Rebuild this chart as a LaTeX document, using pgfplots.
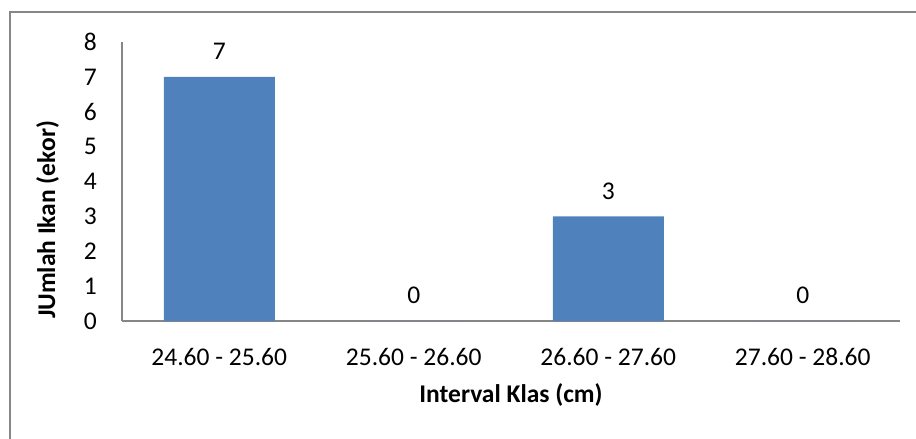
\documentclass[border=0pt]{standalone}
\usepackage{pgfplots}
\pgfplotsset{compat=1.18}
\usepackage{fontspec}
\setmainfont{Carlito}
\definecolor{barblue}{HTML}{4F81BD}
\definecolor{axgray}{HTML}{868686}
\newcommand{\cfont}{\fontsize{25.5bp}{30bp}\selectfont}
\begin{document}
\begin{tikzpicture}
\useasboundingbox (0,0) rectangle (916bp,439bp);
\draw[axgray, line width=1.5bp] (10bp,427bp) rectangle (940bp,-20bp);
\begin{axis}[
  at={(122bp,118bp)}, anchor=south west,
  scale only axis, width=778bp, height=279bp,
  xmin=-0.5, xmax=3.5, ymin=0, ymax=8,
  xtick={0,1,2,3},
  xticklabels={24.60 - 25.60, 25.60 - 26.60, 26.60 - 27.60, 27.60 - 28.60},
  ytick={0,1,2,3,4,5,6,7,8},
  axis x line=bottom, axis y line=left,
  axis line style={-, axgray, line width=1.5bp},
  major tick length=0pt,
  /pgf/number format/assume math mode=true,
  xticklabel style={font=\cfont, anchor=north, inner sep=0pt, yshift=-27bp},
  yticklabel style={font=\cfont, anchor=east, inner sep=0pt, xshift=-25bp},
  xlabel={Interval Klas (cm)},
  ylabel={JUmlah Ikan (ekor)},
  xlabel style={font=\cfont\bfseries, at={(axis description cs:0.5,0)}, anchor=center, yshift=-74bp},
  ylabel style={font=\cfont\bfseries, at={(axis description cs:-0.0958,0.362)}, anchor=center, rotate=0},
  clip=false,
  ybar, bar width=111bp,
  nodes near coords,
  every node near coord/.append style={font=\cfont, anchor=south, inner sep=0pt, yshift=17bp},
]
\addplot[fill=barblue, draw=none] coordinates {(0,7) (1,0) (2,3) (3,0)};
\end{axis}
\end{tikzpicture}
\end{document}
